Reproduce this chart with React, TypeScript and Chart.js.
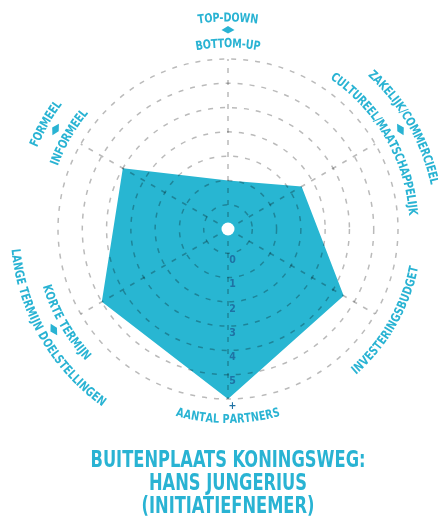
import React, { useEffect, useRef } from 'react';
import { Chart, registerables } from 'chart.js';

Chart.register(...registerables);

// ---- data ----
const axisOuter = ['TOP-DOWN', 'ZAKELIJK/COMMERCIEEL', '', '', 'LANGE TERMIJN DOELSTELLINGEN', 'FORMEEL'];
const axisInner = ['BOTTOM-UP', 'CULTUREEL/MAATSCHAPPELIJK', 'INVESTERINGSBUDGET', 'AANTAL PARTNERS', 'KORTE TERMIJN', 'INFORMEEL'];
const scores = [1, 2.5, 4.5, 6, 5, 4];
const tickValues = [0, 1, 2, 3, 4, 5, 6];
const tickLabels = ['0', '1', '2', '3', '4', '5', '+'];
const titleLines = ['BUITENPLAATS KONINGSWEG:', 'HANS JUNGERIUS', '(INITIATIEFNEMER)'];

// ---- style ----
const TEAL = '#28b6d2';
const TEXT = '#29b3d3';
const TICK = '#1f72a4';
const FONT = "'Liberation Sans Narrow', 'DejaVu Sans Condensed', 'Liberation Sans', Arial, sans-serif";
const LABEL_SIZE = 12.5;
const TITLE_SIZE = 23;

function arcText(ctx: CanvasRenderingContext2D, text: string, cx: number, cy: number, r: number, theta: number, hs: number, bottom: boolean, capH: number) {
  const chars = Array.from(text);
  const widths = chars.map((ch) => ctx.measureText(ch).width * hs);
  const total = widths.reduce((a, b) => a + b, 0);
  let cum = 0;
  for (let i = 0; i < chars.length; i++) {
    const w = widths[i];
    const off = (cum + w / 2 - total / 2) / r;
    const phi = bottom ? theta - off : theta + off;
    const x = cx + r * Math.sin(phi);
    const y = cy - r * Math.cos(phi);
    ctx.save();
    ctx.translate(x, y);
    ctx.rotate(bottom ? phi - Math.PI : phi);
    ctx.scale(hs, 1);
    ctx.fillText(chars[i], 0, capH / 2);
    ctx.restore();
    cum += w;
  }
}

function drawArrow(ctx: CanvasRenderingContext2D, cx: number, cy: number, r: number, theta: number) {
  ctx.save();
  ctx.translate(cx + r * Math.sin(theta), cy - r * Math.cos(theta));
  ctx.rotate(theta);
  ctx.beginPath();
  ctx.moveTo(0, -4);
  ctx.lineTo(6.5, 0);
  ctx.lineTo(0, 3.5);
  ctx.lineTo(-6.5, 0);
  ctx.closePath();
  ctx.fillStyle = TEXT;
  ctx.fill();
  ctx.restore();
}

const decorPlugin = {
  id: 'decor',
  afterDraw(chart: any) {
    const scale = chart.scales.r;
    const ctx: CanvasRenderingContext2D = chart.ctx;
    const cx = scale.xCenter;
    const cy = scale.yCenter;
    const R = scale.drawingArea;

    ctx.save();
    // center dot
    ctx.beginPath();
    ctx.arc(cx, cy, 6.5, 0, Math.PI * 2);
    ctx.fillStyle = '#ffffff';
    ctx.fill();

    // tick labels along the bottom axis
    ctx.font = `bold 10.5px ${FONT}`;
    ctx.fillStyle = TICK;
    ctx.textAlign = 'center';
    ctx.textBaseline = 'middle';
    tickValues.forEach((v, i) => {
      const d = scale.getDistanceFromCenterForValue(v);
      ctx.fillText(tickLabels[i], cx + 4.5, cy + d + 7);
    });

    // curved axis labels
    ctx.font = `bold ${LABEL_SIZE}px ${FONT}`;
    ctx.textAlign = 'center';
    ctx.textBaseline = 'alphabetic';
    ctx.fillStyle = TEXT;
    const hs = 131 / ctx.measureText('ZAKELIJK/COMMERCIEEL').width;
    const capH = LABEL_SIZE * 0.716;
    for (let i = 0; i < axisInner.length; i++) {
      const theta = scale.getIndexAngle(i);
      const bottom = Math.cos(theta) < -0.01;
      const rOuter = bottom ? 213 / 170 * R : 212 / 170 * R;
      const rArrow = bottom ? 201 / 170 * R : 199 / 170 * R;
      const rInner = bottom ? 189.5 / 170 * R : 186 / 170 * R;
      if (axisOuter[i]) {
        arcText(ctx, axisOuter[i], cx, cy, rOuter, theta, hs, bottom, capH);
        drawArrow(ctx, cx, cy, rArrow, theta);
      }
      if (axisInner[i]) arcText(ctx, axisInner[i], cx, cy, rInner, theta, hs, bottom, capH);
    }

    // title
    ctx.font = `bold ${TITLE_SIZE}px ${FONT}`;
    const ths = 275 / ctx.measureText(titleLines[0]).width;
    const tcap = TITLE_SIZE * 0.716;
    titleLines.forEach((line, i) => {
      ctx.save();
      ctx.translate(cx, cy + R + 59.3 + i * 23.4 + tcap / 2);
      ctx.scale(ths, 1);
      ctx.fillText(line, 0, 0);
      ctx.restore();
    });
    ctx.restore();
  },
};

export default function App() {
  const ref = useRef<HTMLCanvasElement | null>(null);
  useEffect(() => {
    if (!ref.current) return;
    const chart = new Chart(ref.current, {
      type: 'radar',
      data: {
        labels: axisInner.map((inner, i) => (axisOuter[i] ? `${axisOuter[i]} / ${inner}` : inner)),
        datasets: [
          {
            data: scores,
            backgroundColor: TEAL,
            borderWidth: 0,
            pointRadius: 0,
            fill: 'start',
          },
        ],
      },
      options: {
        responsive: false,
        animation: false,
        layout: { padding: { left: 58, right: 40, top: 59, bottom: 118 } },
        plugins: { legend: { display: false }, tooltip: { enabled: false }, title: { display: false } },
        elements: { line: { tension: 0 } },
        scales: {
          r: {
            min: -1,
            max: 6,
            ticks: { display: false, stepSize: 1, z: 1 },
            pointLabels: { display: false },
            grid: { circular: true, color: 'rgba(0,0,0,0.27)', lineWidth: 1.5, z: 1 },
            border: { dash: [5, 7], z: 1 },
            angleLines: { color: 'rgba(0,0,0,0.27)', lineWidth: 1.5, borderDash: [5, 7] },
          },
        },
      } as any,
      plugins: [decorPlugin],
    });
    return () => chart.destroy();
  }, []);
  return (
    <div style={{ position: 'fixed', left: 0, top: 0, width: 438, height: 517, background: '#fff' }}>
      <canvas ref={ref} width={438} height={517} style={{ display: 'block' }} />
    </div>
  );
}
